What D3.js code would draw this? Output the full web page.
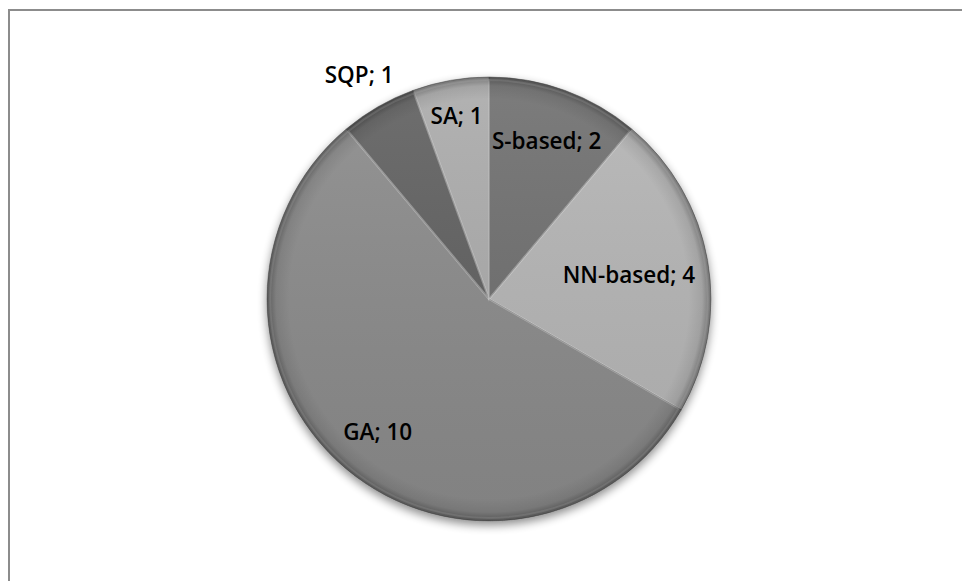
<!DOCTYPE html>
<html>
<head>
<meta charset="utf-8">
<script src="https://cdn.jsdelivr.net/npm/d3@7"></script>
<style>
  html, body { margin: 0; padding: 0; background: #fff; }
  svg { display: block; }
  .lbl { font-family: "Open Sans", "Liberation Sans", sans-serif; font-weight: 600; font-size: 22.5px; fill: #000; }
</style>
</head>
<body>
<svg id="chart" width="962" height="581"></svg>
<script>
// Optimisation methods and how many studies use each
const categories = ["S-based", "NN-based", "GA", "SQP", "SA"];
const counts = [2, 4, 10, 1, 1];
const sliceColors = ["#6e6e6e", "#b4b4b4", "#8a8a8a", "#5f5f5f", "#aaaaaa"];
// label distance from the centre, as a fraction of the radius
const labelRadius = [0.76, 0.64, 0.78, 1.17, 0.84];

const W = 962, H = 581;
const cx = 489, cy = 299, R = 222;

const svg = d3.select("#chart");
const defs = svg.append("defs");

// soft shadow under the pie
const shadow = defs.append("filter").attr("id", "shadow")
  .attr("x", "-20%").attr("y", "-20%").attr("width", "140%").attr("height", "140%");
shadow.append("feGaussianBlur").attr("in", "SourceAlpha").attr("stdDeviation", 5).attr("result", "b");
shadow.append("feOffset").attr("in", "b").attr("dx", 0).attr("dy", 4).attr("result", "o");
shadow.append("feComponentTransfer").attr("in", "o").attr("result", "s")
  .append("feFuncA").attr("type", "linear").attr("slope", 0.45);
const merge = shadow.append("feMerge");
merge.append("feMergeNode").attr("in", "s");
merge.append("feMergeNode").attr("in", "SourceGraphic");

// rim shading for the bevelled look
const rim = defs.append("radialGradient").attr("id", "rim")
  .attr("gradientUnits", "userSpaceOnUse")
  .attr("cx", 0).attr("cy", 0).attr("r", R);
rim.append("stop").attr("offset", "0%").attr("stop-color", "#000").attr("stop-opacity", 0);
rim.append("stop").attr("offset", "90%").attr("stop-color", "#000").attr("stop-opacity", 0);
rim.append("stop").attr("offset", "96%").attr("stop-color", "#000").attr("stop-opacity", 0.08);
rim.append("stop").attr("offset", "100%").attr("stop-color", "#000").attr("stop-opacity", 0.35);

// light sheen across the face
const sheen = defs.append("linearGradient").attr("id", "sheen")
  .attr("x1", 0).attr("y1", 0).attr("x2", 0).attr("y2", 1);
sheen.append("stop").attr("offset", "0%").attr("stop-color", "#fff").attr("stop-opacity", 0.10);
sheen.append("stop").attr("offset", "100%").attr("stop-color", "#000").attr("stop-opacity", 0.06);

// frame
svg.append("rect")
  .attr("x", 9).attr("y", 10).attr("width", W + 20).attr("height", H + 20)
  .attr("fill", "none").attr("stroke", "#8c8c8c").attr("stroke-width", 2);

const data = categories.map((c, i) => ({ name: c, value: counts[i], color: sliceColors[i], lr: labelRadius[i] }));

const pie = d3.pie().value(d => d.value).sort(null);
const arcs = pie(data);
const arc = d3.arc().innerRadius(0).outerRadius(R);

const g = svg.append("g").attr("transform", `translate(${cx},${cy})`);

const slices = g.append("g").attr("filter", "url(#shadow)");
slices.selectAll("path.slice")
  .data(arcs)
  .join("path")
  .attr("class", "slice")
  .attr("d", arc)
  .attr("fill", d => d.data.color)
  .attr("stroke", "#555")
  .attr("stroke-opacity", 0.55)
  .attr("stroke-width", 1);

// bevel highlights along each slice edge
g.selectAll("path.bevel")
  .data(arcs)
  .join("path")
  .attr("class", "bevel")
  .attr("d", d3.arc().innerRadius(0).outerRadius(R - 2))
  .attr("fill", "none")
  .attr("stroke", "#fff")
  .attr("stroke-opacity", 0.18)
  .attr("stroke-width", 2)
  .attr("transform", "scale(0.995)");

g.append("circle").attr("r", R).attr("fill", "url(#sheen)").attr("pointer-events", "none");
g.append("circle").attr("r", R).attr("fill", "url(#rim)").attr("pointer-events", "none");

// data labels: "name; value"
g.selectAll("text.lbl")
  .data(arcs)
  .join("text")
  .attr("class", "lbl")
  .attr("text-anchor", "middle")
  .attr("dominant-baseline", "central")
  .attr("transform", d => {
    const c = d3.arc().innerRadius(R * d.data.lr).outerRadius(R * d.data.lr).centroid(d);
    return `translate(${c[0]},${c[1]})`;
  })
  .text(d => `${d.data.name}; ${d.data.value}`);
</script>
</body>
</html>
